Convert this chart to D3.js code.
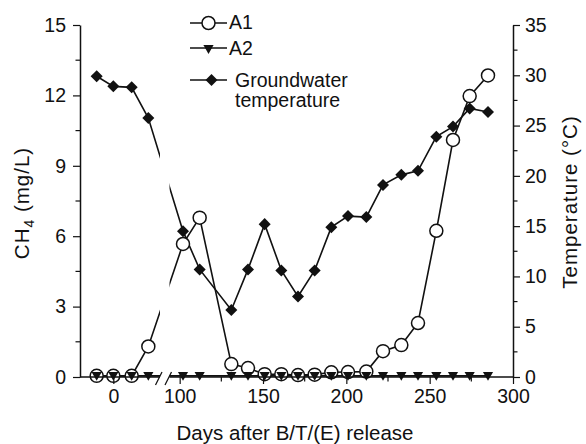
<!DOCTYPE html>
<html>
<head>
<meta charset="utf-8">
<script src="https://cdn.jsdelivr.net/npm/d3@7"></script>
<style>
  body { margin: 0; background: #fff; }
  text { font-family: "Liberation Sans", Arial, Helvetica, sans-serif; fill: #111; }
</style>
</head>
<body>
<svg id="chart" width="586" height="444"></svg>
<script>
// sampling days (x axis is broken between ~31 and ~93)
var days = [-10, 0, 11, 21, 102, 112, 131, 141, 151, 161, 171, 181, 191, 201, 212, 222, 233, 243, 254, 264, 274, 285];
var a1 = [0.05, 0.05, 0.05, 1.3, 5.67, 6.79, 0.55, 0.38, 0.12, 0.12, 0.08, 0.1, 0.2, 0.21, 0.23, 1.1, 1.36, 2.3, 6.23, 10.1, 11.97, 12.85];
var a2 = [0.05, 0.05, 0.05, 0.05, 0.05, 0.05, 0.05, 0.05, 0.05, 0.05, 0.05, 0.05, 0.05, 0.05, 0.05, 0.05, 0.05, 0.05, 0.05, 0.05, 0.05, 0.05];
var temp = [29.9, 28.9, 28.8, 25.75, 14.5, 10.7, 6.66, 10.7, 15.2, 10.6, 8.0, 10.6, 14.9, 16.0, 15.9, 19.1, 20.1, 20.5, 23.9, 24.9, 26.7, 26.35];

var xMajor = [0, 100, 150, 200, 250, 300];
var xMinor = [125, 175, 225, 275];
var yMajor = [0, 3, 6, 9, 12, 15];
var tMajor = [0, 5, 10, 15, 20, 25, 30, 35];

var svg = d3.select('#chart');

var padL = 80, padR = 513, padT = 25, padB = 377;
var breakL = 160, breakR = 169.5;

// piecewise scale: two segments, same px/day, days 31..93 removed
var x = d3.scaleLinear().domain([-20, 31, 93, 300]).range([padL, 165, 168, padR]);
var y = d3.scaleLinear().domain([0, 15]).range([padB, padT]);
var yT = d3.scaleLinear().domain([0, 35]).range([padB, padT]);

var a1Data = days.map((d, i) => ({ d: d, v: a1[i] }));
var a2Data = days.map((d, i) => ({ d: d, v: a2[i] }));
var tData = days.map((d, i) => ({ d: d, v: temp[i] }));

var lineC = d3.line().x(p => x(p.d)).y(p => y(p.v));
var lineT = d3.line().x(p => x(p.d)).y(p => yT(p.v));

var plot = svg.append('g');

plot.append('path').datum(tData).attr('d', lineT)
  .attr('fill', 'none').attr('stroke', '#111').attr('stroke-width', 1.6);
plot.append('path').datum(a1Data).attr('d', lineC)
  .attr('fill', 'none').attr('stroke', '#111').attr('stroke-width', 1.6);
plot.append('path').datum(a2Data).attr('d', lineC)
  .attr('fill', 'none').attr('stroke', '#111').attr('stroke-width', 1.6);

// white gap where the lines cross the axis break
plot.append('rect')
  .attr('x', breakL).attr('y', padT).attr('width', breakR - breakL).attr('height', padB - padT + 6)
  .attr('fill', '#fff');

var diamond = d3.symbol().type(d3.symbolDiamond2).size(92);
plot.selectAll('path.temp').data(tData).enter().append('path')
  .attr('class', 'temp')
  .attr('d', diamond)
  .attr('transform', p => `translate(${x(p.d)},${yT(p.v)})`)
  .attr('fill', '#111');

plot.selectAll('circle.a1').data(a1Data).enter().append('circle')
  .attr('class', 'a1')
  .attr('cx', p => x(p.d)).attr('cy', p => y(p.v)).attr('r', 6.5)
  .attr('fill', '#fff').attr('stroke', '#111').attr('stroke-width', 1.5);

var tri = d3.symbol().type(d3.symbolTriangle).size(45);
plot.selectAll('path.a2').data(a2Data).enter().append('path')
  .attr('class', 'a2')
  .attr('d', tri)
  .attr('transform', p => `translate(${x(p.d)},${y(p.v) - 1}) rotate(180)`)
  .attr('fill', '#111');

// axes
var font = 19.5;

var gx = svg.append('g').attr('transform', `translate(0,${padB})`)
  .call(d3.axisBottom(x).tickValues(xMajor).tickSize(7).tickSizeOuter(0).tickPadding(5));
gx.select('.domain').remove();
gx.selectAll('.tick line').attr('stroke', '#111').attr('stroke-width', 1.2);
gx.selectAll('.tick text').attr('font-size', font).style('font-family', '"Liberation Sans", Arial, sans-serif').attr('fill', '#111');
gx.selectAll('line.minor').data(xMinor).enter().append('line')
  .attr('class', 'minor')
  .attr('x1', d => x(d)).attr('x2', d => x(d)).attr('y1', 0).attr('y2', 4.5)
  .attr('stroke', '#111').attr('stroke-width', 1.2);
// axis line in two parts with break marks
gx.append('line').attr('x1', padL).attr('x2', breakL).attr('y1', 0).attr('y2', 0)
  .attr('stroke', '#111').attr('stroke-width', 1.5);
gx.append('line').attr('x1', breakR).attr('x2', padR).attr('y1', 0).attr('y2', 0)
  .attr('stroke', '#111').attr('stroke-width', 1.5);
[155.5, 165].forEach(function(bx) {
  gx.append('line').attr('x1', bx).attr('y1', 8).attr('x2', bx + 6.5).attr('y2', -5)
    .attr('stroke', '#111').attr('stroke-width', 1.3);
});

var gy = svg.append('g').attr('transform', `translate(${padL},0)`)
  .call(d3.axisLeft(y).tickValues(yMajor).tickSize(7).tickSizeOuter(0).tickPadding(7));
gy.select('.domain').attr('stroke', '#111').attr('stroke-width', 1.5);
gy.selectAll('.tick line').attr('stroke', '#111').attr('stroke-width', 1.2);
gy.selectAll('.tick text').attr('font-size', font).style('font-family', '"Liberation Sans", Arial, sans-serif').attr('fill', '#111');
gy.selectAll('line.minor').data(d3.range(1.5, 15, 3)).enter().append('line')
  .attr('class', 'minor')
  .attr('x1', 0).attr('x2', -4.5).attr('y1', d => y(d)).attr('y2', d => y(d))
  .attr('stroke', '#111').attr('stroke-width', 1.2);

var gr = svg.append('g').attr('transform', `translate(${padR},0)`)
  .call(d3.axisRight(yT).tickValues(tMajor).tickSize(7).tickSizeOuter(0).tickPadding(5));
gr.select('.domain').attr('stroke', '#111').attr('stroke-width', 1.5);
gr.selectAll('.tick line').attr('stroke', '#111').attr('stroke-width', 1.2);
gr.selectAll('.tick text').attr('font-size', font).style('font-family', '"Liberation Sans", Arial, sans-serif').attr('fill', '#111');
gr.selectAll('line.minor').data(d3.range(2.5, 35, 5)).enter().append('line')
  .attr('class', 'minor')
  .attr('x1', 0).attr('x2', 4.5).attr('y1', d => yT(d)).attr('y2', d => yT(d))
  .attr('stroke', '#111').attr('stroke-width', 1.2);

// axis titles
svg.append('text')
  .attr('x', 295).attr('y', 440)
  .attr('text-anchor', 'middle').attr('font-size', 20.5)
  .text('Days after B/T/(E) release');

var ych = svg.append('text')
  .attr('transform', 'translate(29,203) rotate(-90)')
  .attr('text-anchor', 'middle').attr('font-size', 20.5)
  .attr('letter-spacing', 1);
ych.append('tspan').text('CH');
ych.append('tspan').attr('font-size', 14).attr('dy', 5).text('4');
ych.append('tspan').attr('dy', -5).text(' (mg/L)');

svg.append('text')
  .attr('transform', 'translate(577,202) rotate(-90)')
  .attr('text-anchor', 'middle').attr('font-size', 20.5)
  .attr('letter-spacing', 1)
  .text('Temperature (°C)');

// legend
var legend = svg.append('g');
var lx1 = 190, lx2 = 227, lmid = 208.5;
[23, 48, 80].forEach(function(ly, i) {
  legend.append('line').attr('x1', lx1).attr('x2', lx2).attr('y1', ly).attr('y2', ly)
    .attr('stroke', '#111').attr('stroke-width', 1.5);
  if (i === 0) {
    legend.append('circle').attr('cx', lmid).attr('cy', ly).attr('r', 6.5)
      .attr('fill', '#fff').attr('stroke', '#111').attr('stroke-width', 1.5);
  } else if (i === 1) {
    legend.append('path').attr('d', tri).attr('transform', `translate(${lmid},${ly}) rotate(180)`).attr('fill', '#111');
  } else {
    legend.append('path').attr('d', diamond).attr('transform', `translate(${lmid + 3},${ly})`).attr('fill', '#111');
  }
});
legend.append('text').attr('x', 229).attr('y', 29).attr('font-size', 19.5).text('A1');
legend.append('text').attr('x', 229).attr('y', 55).attr('font-size', 19.5).text('A2');
legend.append('text').attr('x', 235).attr('y', 87).attr('font-size', 19.5).text('Groundwater');
legend.append('text').attr('x', 235).attr('y', 107).attr('font-size', 19.5).text('temperature');
</script>
</body>
</html>
